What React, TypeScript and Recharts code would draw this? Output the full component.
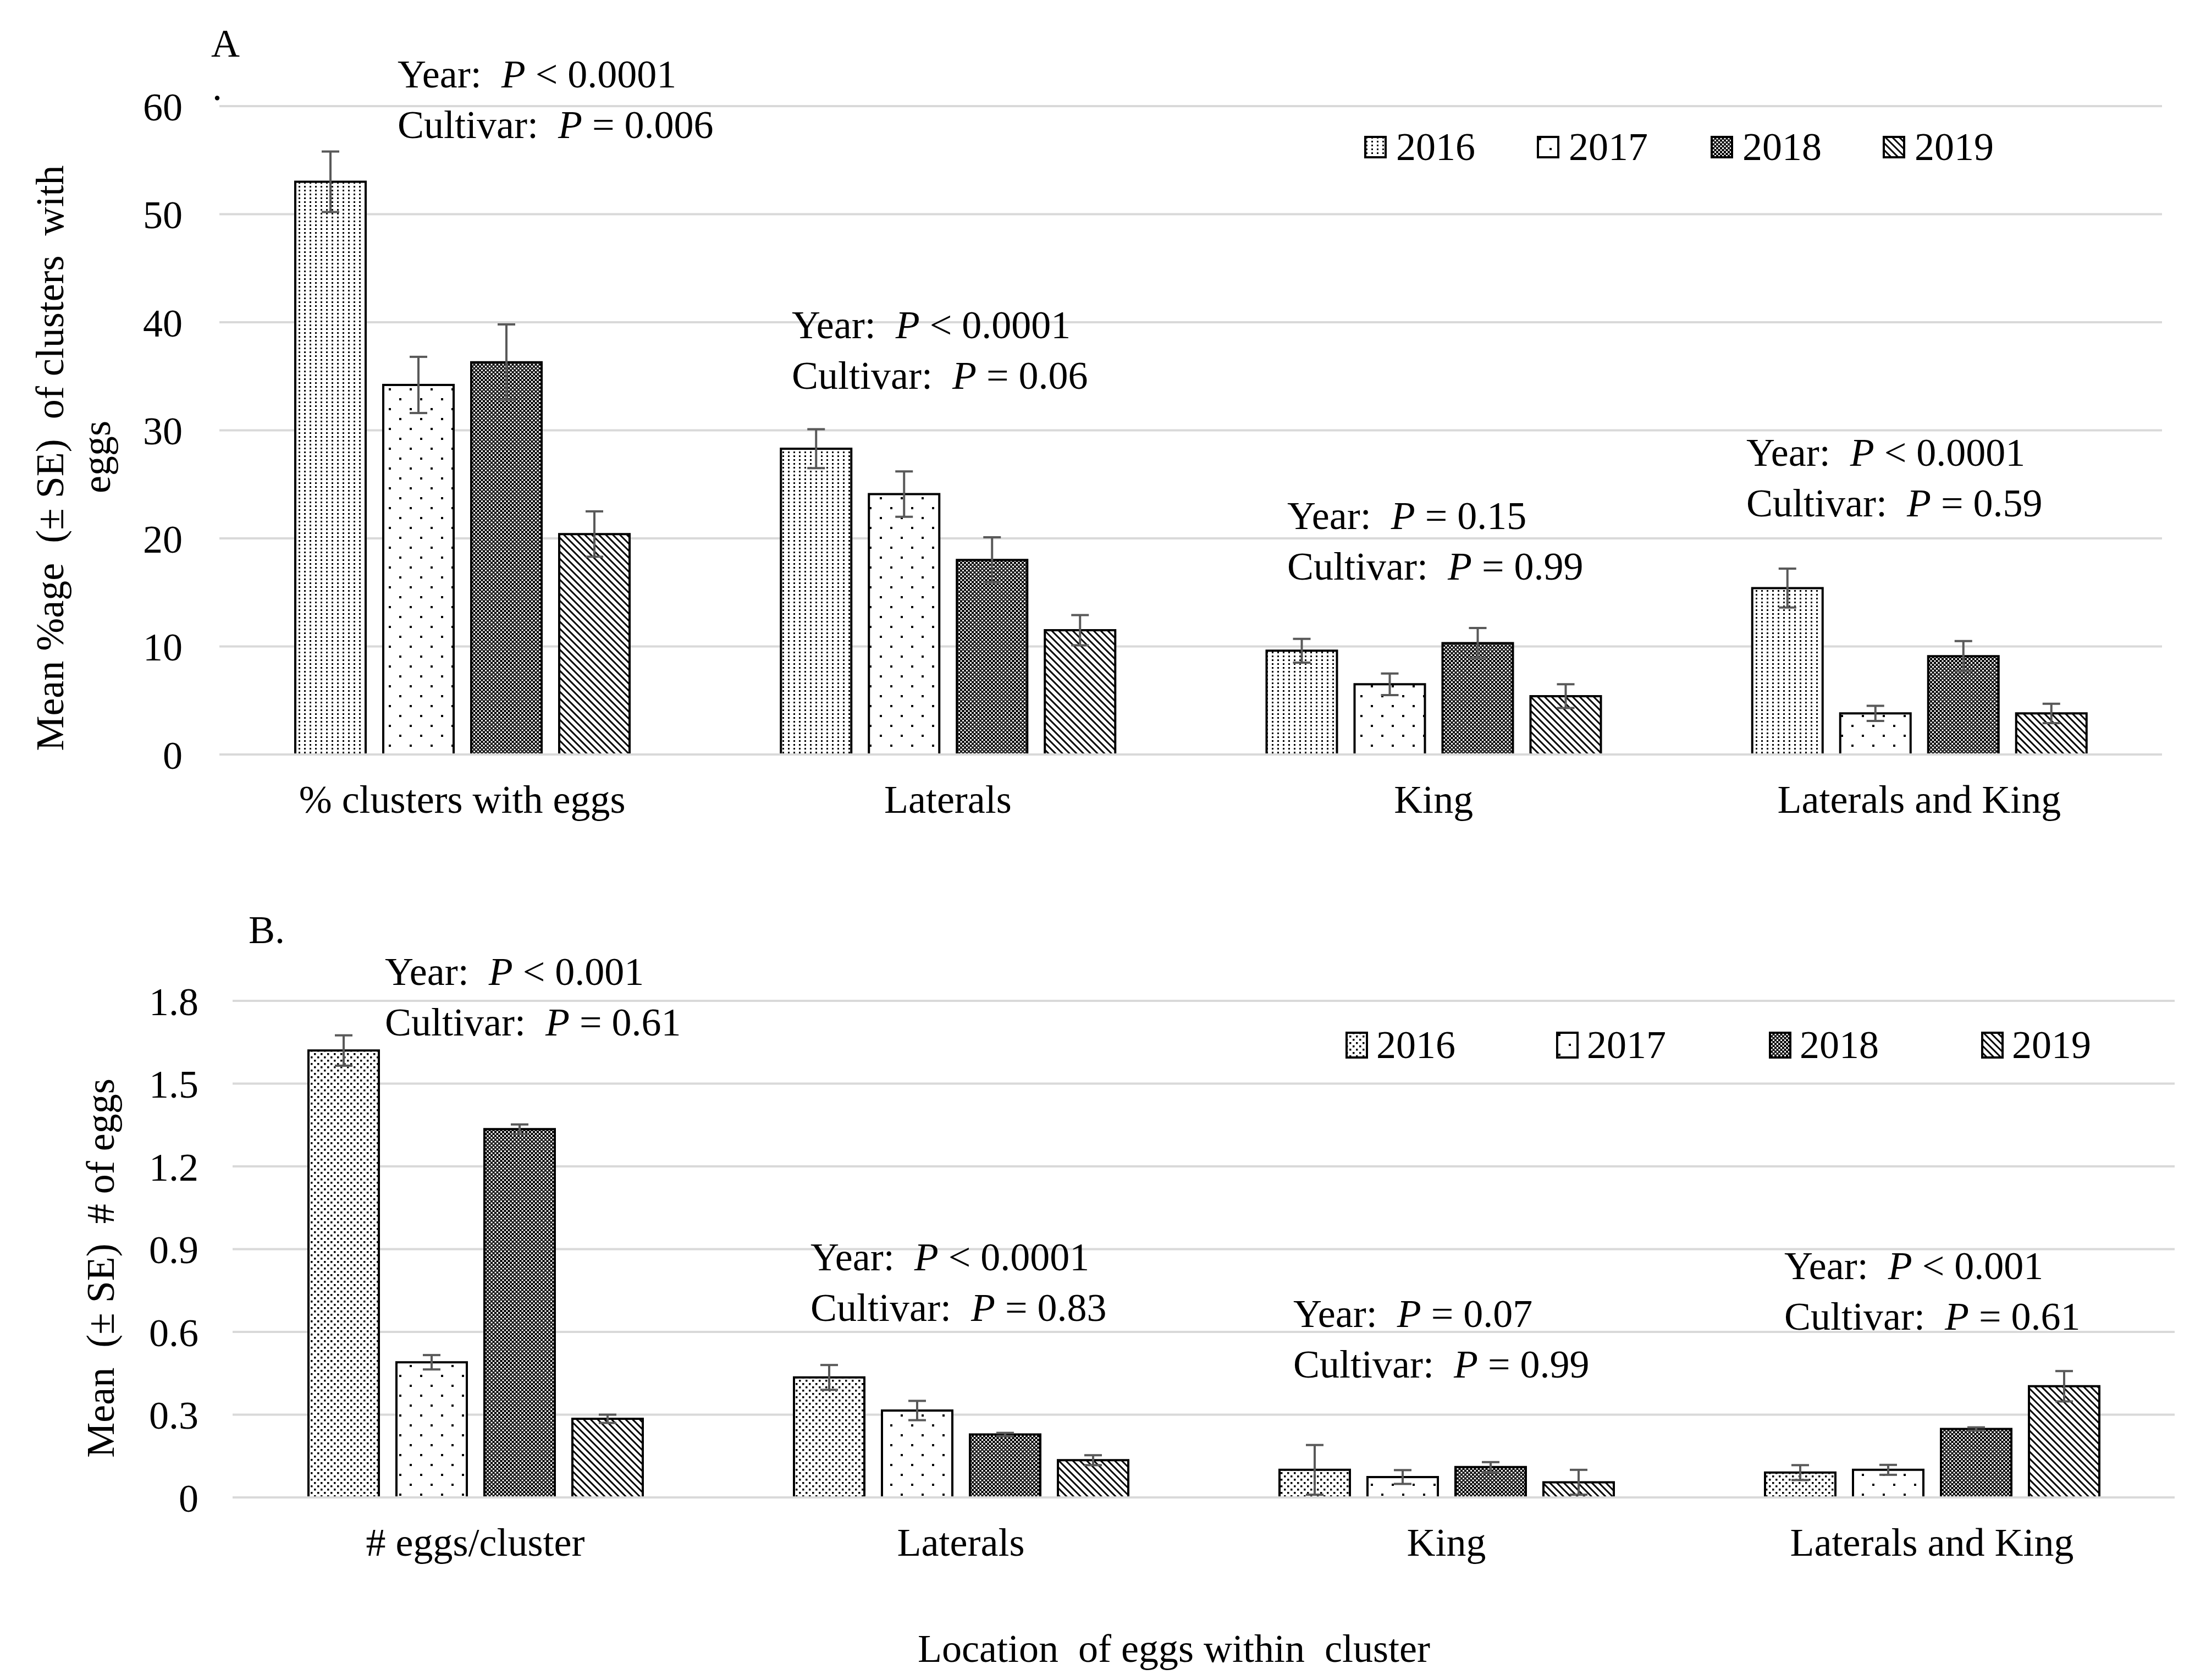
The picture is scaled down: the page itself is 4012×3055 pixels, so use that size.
import { BarChart, Bar, XAxis, YAxis, CartesianGrid, ErrorBar, Legend } from 'recharts'

const FONT = "'Liberation Serif', 'Times New Roman', serif"

const years = ['2016', '2017', '2018', '2019']

// panel A: % of clusters with eggs
const categoriesA = ['% clusters with eggs', 'Laterals', 'King', 'Laterals and King']
const meanA2016 = [53.0, 28.3, 9.6, 15.4]
const meanA2017 = [34.2, 24.1, 6.5, 3.8]
const meanA2018 = [36.3, 18.0, 10.3, 9.1]
const meanA2019 = [20.4, 11.5, 5.4, 3.8]
const seA2016 = [2.8, 1.8, 1.1, 1.8]
const seA2017 = [2.6, 2.1, 1.0, 0.7]
const seA2018 = [3.5, 2.1, 1.4, 1.4]
const seA2019 = [2.1, 1.4, 1.1, 0.9]
const ticksA = [0, 10, 20, 30, 40, 50, 60]
const yearPA = ['< 0.0001', '< 0.0001', '= 0.15', '< 0.0001']
const cultivarPA = ['= 0.006', '= 0.06', '= 0.99', '= 0.59']

// panel B: number of eggs
const categoriesB = ['# eggs/cluster', 'Laterals', 'King', 'Laterals and King']
const meanB2016 = [1.62, 0.435, 0.1, 0.09]
const meanB2017 = [0.49, 0.315, 0.074, 0.1]
const meanB2018 = [1.335, 0.228, 0.11, 0.248]
const meanB2019 = [0.285, 0.135, 0.055, 0.403]
const seB2016 = [0.055, 0.045, 0.09, 0.027]
const seB2017 = [0.026, 0.035, 0.025, 0.018]
const seB2018 = [0.017, 0.006, 0.018, 0.006]
const seB2019 = [0.015, 0.018, 0.045, 0.055]
const ticksB = [0, 0.3, 0.6, 0.9, 1.2, 1.5, 1.8]
const yearPB = ['< 0.001', '< 0.0001', '= 0.07', '< 0.001']
const cultivarPB = ['= 0.61', '= 0.83', '= 0.99', '= 0.61']

function buildRows(cats: string[], means: number[][], ses: number[][]) {
  return cats.map((name, i) => {
    const row: Record<string, string | number> = { name }
    years.forEach((y, k) => {
      row['v' + y] = means[k][i]
      row['e' + y] = ses[k][i]
    })
    return row
  })
}

const rowsA = buildRows(categoriesA, [meanA2016, meanA2017, meanA2018, meanA2019], [seA2016, seA2017, seA2018, seA2019])
const rowsB = buildRows(categoriesB, [meanB2016, meanB2017, meanB2018, meanB2019], [seB2016, seB2017, seB2018, seB2019])

const patternDefs = (p: string, dense: boolean) => (
  <defs>
    {dense ? (
      <pattern id={p + '2016'} patternUnits="userSpaceOnUse" width={10} height={7}>
        <rect width={10} height={7} fill="#fff" />
        <rect x={3} y={2} width={3} height={3} fill="#000" />
      </pattern>
    ) : (
      <pattern id={p + '2016'} patternUnits="userSpaceOnUse" width={12} height={12}>
        <rect width={12} height={12} fill="#fff" />
        <rect x={1} y={1} width={3.5} height={3.5} fill="#000" />
        <rect x={7} y={7} width={3.5} height={3.5} fill="#000" />
      </pattern>
    )}
    <pattern id={p + '2017'} patternUnits="userSpaceOnUse" width={38} height={36}>
      <rect width={38} height={36} fill="#fff" />
      <rect x={4} y={4} width={4} height={4} fill="#000" />
      <rect x={23} y={22} width={4} height={4} fill="#000" />
    </pattern>
    <pattern id={p + '2018'} patternUnits="userSpaceOnUse" width={7} height={7}>
      <rect width={7} height={7} fill="#000" />
      <rect x={0} y={0} width={3} height={3} fill="#fff" />
      <rect x={3.5} y={3.5} width={3} height={3} fill="#fff" />
    </pattern>
    <pattern id={p + '2019'} patternUnits="userSpaceOnUse" width={9} height={9} patternTransform="rotate(-45)">
      <rect width={9} height={9} fill="#fff" />
      <rect x={0} y={0} width={3} height={9} fill="#000" />
    </pattern>
  </defs>
)

const legendContent = (prefix: string, offsets: number[], sw: number, sh: number, gap: number) => () => (
  <div style={{ position: 'relative', width: 1400, height: 80 }}>
    {years.map((y, i) => (
      <div
        key={y}
        style={{ position: 'absolute', left: offsets[i], top: 0, height: 80, display: 'flex', alignItems: 'center' }}
      >
        <svg width={sw} height={sh} style={{ display: 'block' }}>
          <rect x={2} y={2} width={sw - 4} height={sh - 4} fill={`url(#${prefix}${y})`} stroke="#000" strokeWidth={4} />
        </svg>
        <span style={{ marginLeft: gap, fontFamily: FONT, fontSize: 72, lineHeight: 1, color: '#000' }}>{y}</span>
      </div>
    ))}
  </div>
)

const tickStyle = { fontFamily: FONT, fontSize: 72, fill: '#000' }

function Stat({ x, y, yearP, cultivarP }: { x: number; y: number; yearP: string; cultivarP: string }) {
  return (
    <g>
      <text x={x} y={y} style={{ whiteSpace: 'pre' }}>
        {'Year:  '}
        <tspan fontStyle="italic">P</tspan>
        {' ' + yearP}
      </text>
      <text x={x} y={y + 92} style={{ whiteSpace: 'pre' }}>
        {'Cultivar:  '}
        <tspan fontStyle="italic">P</tspan>
        {' ' + cultivarP}
      </text>
    </g>
  )
}

const statPosA = [[723, 159], [1440, 615], [2341, 962], [3176, 847]]
const statPosB = [[700, 1791], [1474, 2310], [2352, 2413], [3245, 2326]]

export default function App() {
  return (
    <div style={{ position: 'absolute', left: 0, top: 0, width: 4012, height: 3055, background: '#fff', overflow: 'hidden' }}>
      <div style={{ position: 'absolute', left: 0, top: 0 }}>
        <BarChart
          width={4012}
          height={1560}
          data={rowsA}
          margin={{ top: 193, right: 80, left: 0, bottom: 88 }}
          barSize={128}
          barGap={32}
        >
          {patternDefs('pA', true)}
          <CartesianGrid horizontal vertical={false} stroke="#d9d9d9" strokeWidth={4} />
          <XAxis
            dataKey="name"
            height={100}
            tickLine={false}
            tickSize={0}
            tickMargin={55}
            axisLine={{ stroke: '#d9d9d9', strokeWidth: 4 }}
            tick={tickStyle}
            interval={0}
          />
          <YAxis
            width={399}
            domain={[0, 60]}
            ticks={ticksA}
            axisLine={false}
            tickLine={false}
            tickSize={0}
            tickMargin={67}
            tick={tickStyle}
            interval={0}
          />
          <Legend
            layout="horizontal"
            verticalAlign="middle"
            align="center"
            content={legendContent('pA', [0, 314, 630, 943], 41, 41, 17)}
            wrapperStyle={{ position: 'absolute', left: 2481, top: 227, width: 1400, height: 80 }}
          />
          {years.map((y) => (
            <Bar key={y} dataKey={'v' + y} name={y} fill={`url(#pA${y})`} stroke="#000" strokeWidth={4} isAnimationActive={false}>
              <ErrorBar dataKey={'e' + y} direction="y" width={16} stroke="#595959" strokeWidth={4} isAnimationActive={false} />
            </Bar>
          ))}
        </BarChart>
      </div>

      <div style={{ position: 'absolute', left: 0, top: 1560 }}>
        <BarChart
          width={4012}
          height={1495}
          data={rowsB}
          margin={{ top: 260, right: 57, left: 0, bottom: 232 }}
          barSize={128}
          barGap={32}
        >
          {patternDefs('pB', false)}
          <CartesianGrid horizontal vertical={false} stroke="#d9d9d9" strokeWidth={4} />
          <XAxis
            dataKey="name"
            height={100}
            tickLine={false}
            tickSize={0}
            tickMargin={55}
            axisLine={{ stroke: '#d9d9d9', strokeWidth: 4 }}
            tick={tickStyle}
            interval={0}
          />
          <YAxis
            width={423}
            domain={[0, 1.8]}
            ticks={ticksB}
            axisLine={false}
            tickLine={false}
            tickSize={0}
            tickMargin={62}
            tick={tickStyle}
            interval={0}
            tickFormatter={(v: number) => String(Math.round(v * 10) / 10)}
          />
          <Legend
            layout="horizontal"
            verticalAlign="middle"
            align="center"
            content={legendContent('pB', [0, 383, 770, 1156], 41, 49, 15)}
            wrapperStyle={{ position: 'absolute', left: 2447, top: 300, width: 1400, height: 80 }}
          />
          {years.map((y) => (
            <Bar key={y} dataKey={'v' + y} name={y} fill={`url(#pB${y})`} stroke="#000" strokeWidth={4} isAnimationActive={false}>
              <ErrorBar dataKey={'e' + y} direction="y" width={16} stroke="#595959" strokeWidth={4} isAnimationActive={false} />
            </Bar>
          ))}
        </BarChart>
      </div>

      <svg
        width={4012}
        height={3055}
        style={{ position: 'absolute', left: 0, top: 0, pointerEvents: 'none' }}
        fontFamily={FONT}
        fontSize={72}
        fill="#000"
      >
        <text x={384} y={103}>A</text>
        <text x={386} y={182}>.</text>
        <text x={452} y={1715}>B.</text>
        {statPosA.map(([x, y], i) => (
          <Stat key={'a' + i} x={x} y={y} yearP={yearPA[i]} cultivarP={cultivarPA[i]} />
        ))}
        {statPosB.map(([x, y], i) => (
          <Stat key={'b' + i} x={x} y={y} yearP={yearPB[i]} cultivarP={cultivarPB[i]} />
        ))}
        <text x={115} y={833} textAnchor="middle" transform="rotate(-90 115 833)" style={{ whiteSpace: 'pre' }}>
          Mean %age  (± SE)  of clusters  with
        </text>
        <text x={200} y={831} textAnchor="middle" transform="rotate(-90 200 831)">
          eggs
        </text>
        <text x={207} y={2306} textAnchor="middle" transform="rotate(-90 207 2306)" style={{ whiteSpace: 'pre' }}>
          Mean  (± SE)  # of eggs
        </text>
        <text x={2135} y={3022} textAnchor="middle" style={{ whiteSpace: 'pre' }}>
          Location  of eggs within  cluster
        </text>
      </svg>
    </div>
  )
}
